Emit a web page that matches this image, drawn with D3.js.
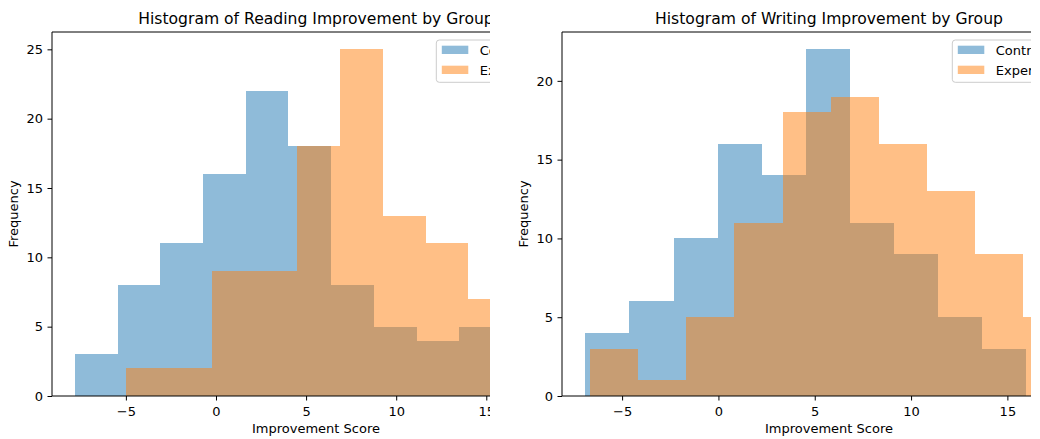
<!DOCTYPE html>
<html>
<head>
<meta charset="utf-8">
<script src="https://d3js.org/d3.v7.min.js"></script>
<style>
	body { margin: 0; background: #fff; }
</style>
</head>
<body>
<svg id="SVG" width="1040" height="439" font-family="DejaVu Sans, sans-serif" font-size="13"></svg>
<script>
// legend / series
var groups = ["Control", "Experimental"];
var colors = ["#1f77b4", "#ff7f0e"];

// reading improvement: bin edges and counts
var readingControlEdges = [-7.81, -5.44, -3.08, -0.71, 1.66, 4.02, 6.39, 8.76, 11.13, 13.49, 15.86];
var readingControlCounts = [3, 8, 11, 16, 22, 18, 8, 5, 4, 5];
var readingExpEdges = [-4.98, -2.61, -0.24, 2.14, 4.51, 6.89, 9.26, 11.64, 14.01, 16.38, 18.76];
var readingExpCounts = [2, 2, 9, 9, 18, 25, 13, 11, 7, 4];

// writing improvement
var writingControlEdges = [-6.91, -4.62, -2.33, -0.04, 2.25, 4.54, 6.83, 9.12, 11.41, 13.70, 15.99];
var writingControlCounts = [4, 6, 10, 16, 14, 22, 11, 9, 5, 3];
var writingExpEdges = [-6.66, -4.16, -1.67, 0.83, 3.33, 5.82, 8.32, 10.81, 13.31, 15.80, 18.30];
var writingExpCounts = [3, 1, 5, 11, 18, 19, 16, 13, 9, 5];

// axis limits and ticks
var readingXLim = [-9.1, 20.2];
var readingYLim = [0, 26.25];
var readingXTicks = [-5, 0, 5, 10, 15];
var readingYTicks = [0, 5, 10, 15, 20, 25];

var writingXLim = [-8.12, 19.6];
var writingYLim = [0, 23.1];
var writingXTicks = [-5, 0, 5, 10, 15];
var writingYTicks = [0, 5, 10, 15, 20];

function toBins(edges, counts) {
	return counts.map(function(c, i) { return { x0: edges[i], x1: edges[i + 1], n: c }; });
}

var svg = d3.select("#SVG");
var plotTop = 32, plotBottom = 396;

function drawPanel(opt) {
	var clipId = "clip" + opt.id;
	svg.append("clipPath").attr("id", clipId)
		.append("rect")
		.attr("x", opt.clip[0]).attr("y", 0)
		.attr("width", opt.clip[1] - opt.clip[0]).attr("height", 439);

	var g = svg.append("g").attr("clip-path", "url(#" + clipId + ")");

	var x = d3.scaleLinear().domain(opt.xlim).range([opt.left, opt.right]);
	var y = d3.scaleLinear().domain(opt.ylim).range([plotBottom, plotTop]);

	// histograms, control first, experimental over it
	opt.series.forEach(function(s, k) {
		g.append("g")
			.attr("fill", colors[k])
			.attr("fill-opacity", 0.5)
			.attr("shape-rendering", "crispEdges")
			.selectAll("rect")
			.data(toBins(s.edges, s.counts))
			.enter().append("rect")
				.attr("x", function(d) { return Math.round(x(d.x0)); })
				.attr("width", function(d) { return Math.round(x(d.x1)) - Math.round(x(d.x0)); })
				.attr("y", function(d) { return y(d.n); })
				.attr("height", function(d) { return y(0) - y(d.n); });
	});

	// spines
	g.append("line").attr("x1", opt.left).attr("x2", opt.right).attr("y1", plotTop).attr("y2", plotTop)
		.attr("stroke", "#000").attr("stroke-width", 1);

	var xAxis = g.append("g")
		.attr("transform", "translate(0," + plotBottom + ")")
		.call(d3.axisBottom(x).tickValues(opt.xticks).tickSize(4.5).tickPadding(4.5).tickSizeOuter(0));
	var yAxis = g.append("g")
		.attr("transform", "translate(" + opt.left + ",0)")
		.call(d3.axisLeft(y).tickValues(opt.yticks).tickSize(4.5).tickPadding(4.5).tickSizeOuter(0));

	[xAxis, yAxis].forEach(function(a) {
		a.attr("font-family", null).attr("font-size", null);
		a.select(".domain").attr("stroke", "#000").attr("stroke-width", 1)
			.attr("d", a === xAxis ? "M" + opt.left + ",0H" + opt.right : "M0," + plotTop + "V" + plotBottom);
		a.selectAll(".tick line").attr("stroke", "#000").attr("stroke-width", 1);
		a.selectAll(".tick text").attr("fill", "#000");
	});
	xAxis.selectAll(".tick text").attr("dy", null).attr("y", 20);

	var cx = (opt.left + opt.right) / 2;

	g.append("text")
		.attr("x", cx).attr("y", 23.7)
		.attr("text-anchor", "middle")
		.attr("font-size", 15.6)
		.text(opt.title);

	g.append("text")
		.attr("x", cx).attr("y", 432.5)
		.attr("text-anchor", "middle")
		.text("Improvement Score");

	g.append("text")
		.attr("transform", "translate(" + (opt.left - 34.2) + "," + ((plotTop + plotBottom) / 2) + ")rotate(-90)")
		.attr("text-anchor", "middle")
		.text("Frequency");

	// legend, upper right of the full axes
	var legend = g.append("g");
	var box = legend.append("rect")
		.attr("fill", "#fff").attr("fill-opacity", 0.8)
		.attr("stroke", "#ccc").attr("stroke-width", 1)
		.attr("rx", 3);
	var items = legend.selectAll("g")
		.data(groups)
		.enter().append("g")
			.attr("transform", function(d, i) { return "translate(0," + (i * 20) + ")"; });
	items.append("rect")
		.attr("x", 5.5).attr("y", 5.7)
		.attr("width", 26.5).attr("height", 8.3)
		.attr("fill", function(d, i) { return colors[i]; })
		.attr("fill-opacity", 0.5);
	var texts = items.append("text")
		.attr("x", 43.5).attr("y", 14.5)
		.text(function(d) { return d; });
	var tw = d3.max(texts.nodes(), function(n) { return n.getComputedTextLength(); });
	var bw = 43.5 + tw + 5.5;
	box.attr("x", 0).attr("y", 0).attr("width", bw).attr("height", 42.3);
	legend.attr("transform", "translate(" + (opt.right - 8 - bw) + ",40)");
}

drawPanel({
	id: "Reading",
	title: "Histogram of Reading Improvement by Group",
	left: 52, right: 580, clip: [0, 490],
	xlim: readingXLim, ylim: readingYLim,
	xticks: readingXTicks, yticks: readingYTicks,
	series: [
		{ edges: readingControlEdges, counts: readingControlCounts },
		{ edges: readingExpEdges, counts: readingExpCounts }
	]
});

drawPanel({
	id: "Writing",
	title: "Histogram of Writing Improvement by Group",
	left: 562, right: 1096, clip: [490, 1031],
	xlim: writingXLim, ylim: writingYLim,
	xticks: writingXTicks, yticks: writingYTicks,
	series: [
		{ edges: writingControlEdges, counts: writingControlCounts },
		{ edges: writingExpEdges, counts: writingExpCounts }
	]
});
</script>
</body>
</html>
